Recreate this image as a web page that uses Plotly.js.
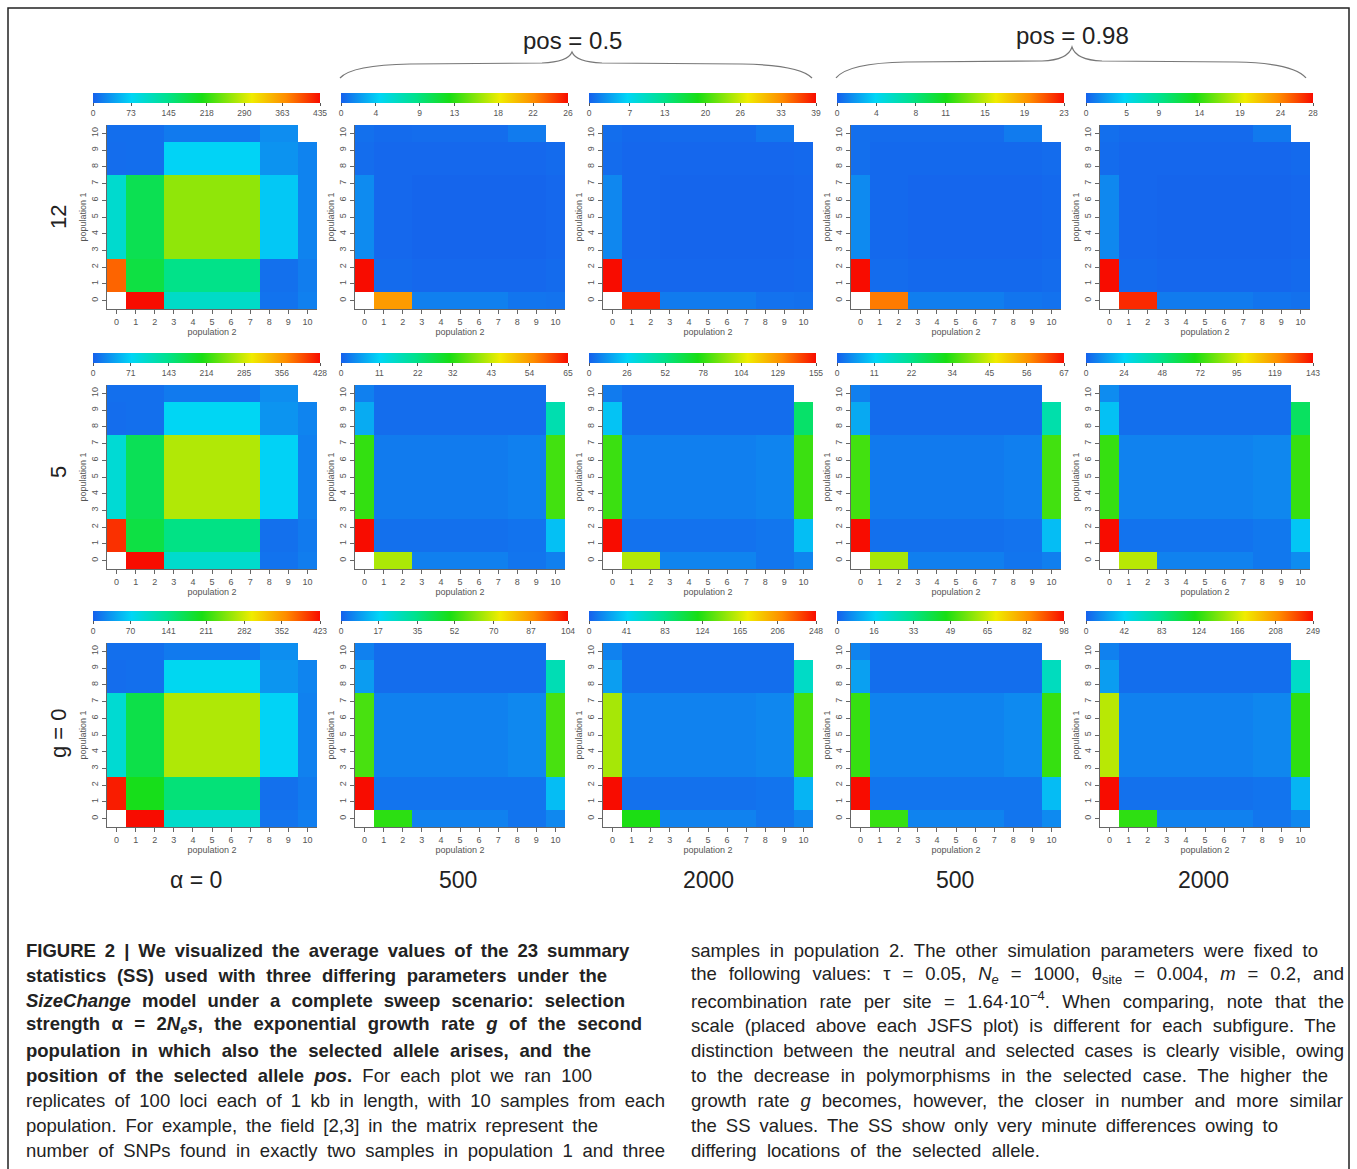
<!DOCTYPE html>
<html>
<head>
<meta charset="utf-8">
<script src="https://cdn.plot.ly/plotly-3.0.1.min.js"></script>
<style>
html,body{margin:0;padding:0;background:#fff;}
#chart{width:1357px;height:1169px;}
</style>
</head>
<body>
<div id="chart"></div>
<script>
// ---------------- DATA ----------------
// bins of sample counts (population 1 rows, population 2 columns): 0, 1-2, 3-7, 8-9, 10
const binEdges = [-0.5, 0.5, 2.5, 7.5, 9.5, 10.5];
const axisTicks = [0,1,2,3,4,5,6,7,8,9,10];
const rowLabels = ["12", "5", "g = 0"];
const colLabels = ["\u03b1 = 0", "500", "2000", "500", "2000"];
const posLabels = ["pos = 0.5", "pos = 0.98"];

// row g = 12
const z_g12_a0      = [[null,435,105,12,20],[390,183,145,10,18],[100,175,262,65,22],[8,9,72,32,22],[9,9,16,28,null]];
const z_g12_a500_p05  = [[null,21.5,1.2,0.8,0.7],[26,0.4,0.3,0.3,0.4],[1.6,0.3,0.2,0.2,0.3],[0.5,0.3,0.3,0.3,0.4],[0.6,0.4,0.5,1.0,null]];
const z_g12_a2000_p05 = [[null,38,1.5,1.0,0.9],[39,0.5,0.4,0.4,0.5],[2.2,0.4,0.3,0.3,0.4],[0.7,0.4,0.4,0.4,0.5],[0.8,0.5,0.6,1.3,null]];
const z_g12_a500_p098 = [[null,20,1.0,0.7,0.6],[23,0.4,0.3,0.3,0.4],[1.4,0.3,0.2,0.2,0.3],[0.5,0.3,0.3,0.3,0.4],[0.5,0.4,0.4,0.9,null]];
const z_g12_a2000_p098= [[null,27,1.1,0.8,0.7],[28,0.4,0.3,0.3,0.4],[1.6,0.3,0.2,0.2,0.3],[0.5,0.3,0.3,0.3,0.4],[0.6,0.4,0.4,1.0,null]];
// row g = 5
const z_g5_a0       = [[null,428,100,12,18],[410,180,145,10,16],[95,170,272,70,20],[8,9,74,32,22],[9,9,16,28,null]];
const z_g5_a500_p05   = [[null,41,3,2,3],[65,1.5,1.5,1.8,9],[33,2.5,2.5,3,34],[7,1.2,1.2,1.2,18],[3,1.2,1.2,1.2,null]];
const z_g5_a2000_p05  = [[null,99,8,5,8],[155,4,4,5,21],[80,7,7,8,80],[22,3,3,3,58],[6,3,3,3,null]];
const z_g5_a500_p098  = [[null,42,3,2,3],[67,1.5,1.5,1.8,9],[35,2.5,2.5,3,35],[7,1.2,1.2,1.2,19],[3,1.2,1.2,1.2,null]];
const z_g5_a2000_p098 = [[null,92,7,5,9],[143,4,4,5,21],[73,7,7,8,73],[20,3,3,3,55],[9,3,3,3,null]];
// row g = 0
const z_g0_a0       = [[null,423,100,12,18],[415,200,150,10,16],[95,175,268,70,20],[8,9,75,32,22],[9,9,16,28,null]];
const z_g0_a500_p05   = [[null,52,5,3,6],[104,3,3,3,14],[55,5,5,6,55],[9,2,2,2,28],[5,2,2,2,null]];
const z_g0_a2000_p05  = [[null,120,12,8,14],[248,6,6,7,30],[155,12,12,14,130],[22,5,5,5,60],[12,5,5,5,null]];
const z_g0_a500_p098  = [[null,50,5,3,6],[98,3,3,3,13],[50,5,5,6,50],[9,2,2,2,25],[5,2,2,2,null]];
const z_g0_a2000_p098 = [[null,125,12,8,14],[249,6,6,7,30],[160,12,12,14,125],[22,5,5,5,60],[12,5,5,5,null]];

// colour-scale tick labels
const cb_g12_a0       = [0,73,145,218,290,363,435];
const cb_g12_a500_p05   = [0,4,9,13,18,22,26];
const cb_g12_a2000_p05  = [0,7,13,20,26,33,39];
const cb_g12_a500_p098  = [0,4,8,11,15,19,23];
const cb_g12_a2000_p098 = [0,5,9,14,19,24,28];
const cb_g5_a0        = [0,71,143,214,285,356,428];
const cb_g5_a500_p05    = [0,11,22,32,43,54,65];
const cb_g5_a2000_p05   = [0,26,52,78,104,129,155];
const cb_g5_a500_p098   = [0,11,22,34,45,56,67];
const cb_g5_a2000_p098  = [0,24,48,72,95,119,143];
const cb_g0_a0        = [0,70,141,211,282,352,423];
const cb_g0_a500_p05    = [0,17,35,52,70,87,104];
const cb_g0_a2000_p05   = [0,41,83,124,165,206,248];
const cb_g0_a500_p098   = [0,16,33,49,65,82,98];
const cb_g0_a2000_p098  = [0,42,83,124,166,208,249];

const grid = [
  [[z_g12_a0,cb_g12_a0],[z_g12_a500_p05,cb_g12_a500_p05],[z_g12_a2000_p05,cb_g12_a2000_p05],[z_g12_a500_p098,cb_g12_a500_p098],[z_g12_a2000_p098,cb_g12_a2000_p098]],
  [[z_g5_a0,cb_g5_a0],[z_g5_a500_p05,cb_g5_a500_p05],[z_g5_a2000_p05,cb_g5_a2000_p05],[z_g5_a500_p098,cb_g5_a500_p098],[z_g5_a2000_p098,cb_g5_a2000_p098]],
  [[z_g0_a0,cb_g0_a0],[z_g0_a500_p05,cb_g0_a500_p05],[z_g0_a2000_p05,cb_g0_a2000_p05],[z_g0_a500_p098,cb_g0_a500_p098],[z_g0_a2000_p098,cb_g0_a2000_p098]]
];

const captionLeft = [
  "<b>FIGURE 2 | We visualized the average values of the 23 summary</b>",
  "<b>statistics (SS) used with three differing parameters under the</b>",
  "<b><i>SizeChange</i> model under a complete sweep scenario: selection</b>",
  "<b>strength \u03b1 = 2<i>N<sub>e</sub>s</i>, the exponential growth rate <i>g</i> of the second</b>",
  "<b>population in which also the selected allele arises, and the</b>",
  "<b>position of the selected allele <i>pos</i>.</b> For each plot we ran 100",
  "replicates of 100 loci each of 1 kb in length, with 10 samples from each",
  "population. For example, the field [2,3] in the matrix represent the",
  "number of SNPs found in exactly two samples in population 1 and three"
];
const captionRight = [
  "samples in population 2. The other simulation parameters were fixed to",
  "the following values: \u03c4 = 0.05, <i>N<sub>e</sub></i> = 1000, \u03b8<sub>site</sub> = 0.004, <i>m</i> = 0.2, and",
  "recombination rate per site = 1.64\u00b710<sup>\u22124</sup>. When comparing, note that the",
  "scale (placed above each JSFS plot) is different for each subfigure. The",
  "distinction between the neutral and selected cases is clearly visible, owing",
  "to the decrease in polymorphisms in the selected case. The higher the",
  "growth rate <i>g</i> becomes, however, the closer in number and more similar",
  "the SS values. The SS show only very minute differences owing to",
  "differing locations of the selected allele."
];

// ---------------- LAYOUT ----------------
const W = 1357, H = 1169;
const px = x => x / W;
const py = y => 1 - y / H;
const colLeft = [107, 355, 603, 851, 1100];
const rowTop = [125, 385, 643];
const PW = 210, PH = 184;

const colorscale = [
  [0.00, 'rgb(22,96,236)'],
  [0.17, 'rgb(0,214,246)'],
  [0.33, 'rgb(0,226,140)'],
  [0.48, 'rgb(24,222,20)'],
  [0.70, 'rgb(240,236,0)'],
  [0.85, 'rgb(255,140,0)'],
  [1.00, 'rgb(248,12,0)']
];

const tickFont = {family: 'Liberation Sans, Arial, sans-serif', size: 9, color: '#555'};
const data = [];
const layout = {
  width: W, height: H,
  margin: {l: 0, r: 0, t: 0, b: 0},
  paper_bgcolor: '#fff', plot_bgcolor: '#fff',
  showlegend: false,
  annotations: [], shapes: []
};

let n = 0;
for (let r = 0; r < 3; r++) {
  for (let c = 0; c < 5; c++) {
    n++;
    const [z, cb] = grid[r][c];
    const xa = n === 1 ? 'x' : 'x' + n;
    const ya = n === 1 ? 'y' : 'y' + n;
    const L = colLeft[c], T = rowTop[r];
    data.push({
      type: 'heatmap', z: z, x: binEdges, y: binEdges,
      xaxis: xa, yaxis: ya,
      zmin: 0, zmax: cb[cb.length - 1],
      colorscale: colorscale, hoverongaps: false,
      colorbar: {
        orientation: 'h', x: px(L - 14), xanchor: 'left',
        y: py(T - 32), yanchor: 'top',
        len: 227, lenmode: 'pixels', thickness: 10,
        xpad: 0, ypad: 0, outlinewidth: 0,
        tickvals: cb, ticktext: cb.map(String),
        ticks: 'outside', ticklen: 3, tickcolor: '#555',
        tickfont: {family: 'Liberation Sans, Arial, sans-serif', size: 8.5, color: '#555'}
      }
    });
    const common = {
      range: [-0.5, 10.5], tickvals: axisTicks, ticktext: axisTicks.map(String),
      ticks: 'outside', ticklen: 4, tickcolor: '#666', tickfont: tickFont,
      showline: true, linecolor: '#666', linewidth: 1,
      showgrid: false, zeroline: false, fixedrange: true
    };
    layout['xaxis' + (n === 1 ? '' : n)] = Object.assign({}, common, {
      domain: [px(L), px(L + PW)], anchor: ya,
      title: {text: 'population 2', standoff: 0, font: {family: 'Liberation Sans, Arial, sans-serif', size: 9, color: '#555'}}
    });
    layout['yaxis' + (n === 1 ? '' : n)] = Object.assign({}, common, {
      domain: [py(T + PH), py(T)], anchor: xa, tickangle: -90,
      title: {text: 'population 1', standoff: 2, font: {family: 'Liberation Sans, Arial, sans-serif', size: 9, color: '#555'}}
    });
  }
}

// row labels
const rowLabelY = [217, 472, 733];
rowLabels.forEach((t, i) => layout.annotations.push({
  text: t, xref: 'paper', yref: 'paper', x: px(58), y: py(rowLabelY[i]),
  xanchor: 'center', yanchor: 'middle', textangle: -90, showarrow: false,
  font: {family: 'Liberation Sans, Arial, sans-serif', size: 22, color: '#222'}
}));
// column labels
const colLabelX = [196, 458, 708, 955, 1203];
colLabels.forEach((t, i) => layout.annotations.push({
  text: t, xref: 'paper', yref: 'paper', x: px(colLabelX[i]), y: py(880),
  xanchor: 'center', yanchor: 'middle', showarrow: false,
  font: {family: 'Liberation Sans, Arial, sans-serif', size: 23, color: '#222'}
}));
// pos labels and braces
const posX = [572, 1072], posY = [40, 35];
posLabels.forEach((t, i) => layout.annotations.push({
  text: t, xref: 'paper', yref: 'paper', x: px(posX[i]), y: py(posY[i]),
  xanchor: 'center', yanchor: 'middle', showarrow: false,
  font: {family: 'Liberation Sans Narrow, Liberation Sans, Arial, sans-serif', size: 24, color: '#222'}
}));
function brace(x0, x1, xa, yEnd, yMid, yApex) {
  const P = (x, y) => px(x).toFixed(5) + ',' + py(y).toFixed(5);
  return 'M ' + P(x0, yEnd) +
    ' Q ' + P(x0 + 12, yMid + 1) + ' ' + P(x0 + 70, yMid) +
    ' L ' + P(xa - 30, yMid - 1) +
    ' Q ' + P(xa - 4, yMid - 2) + ' ' + P(xa, yApex) +
    ' Q ' + P(xa + 4, yMid - 2) + ' ' + P(xa + 30, yMid - 1) +
    ' L ' + P(x1 - 70, yMid) +
    ' Q ' + P(x1 - 12, yMid + 1) + ' ' + P(x1, yEnd);
}
layout.shapes.push({type: 'path', xref: 'paper', yref: 'paper', path: brace(340, 812, 572, 78, 64, 52), line: {color: '#777', width: 1.2}});
layout.shapes.push({type: 'path', xref: 'paper', yref: 'paper', path: brace(836, 1306, 1072, 78, 62, 47), line: {color: '#777', width: 1.2}});
// frame
layout.shapes.push({type: 'rect', xref: 'paper', yref: 'paper', x0: px(8), x1: px(1349), y0: -0.02, y1: py(8), line: {color: '#222', width: 1.5}});

// caption (one annotation per line; right edges of each printed line)
const capFont = {family: 'Liberation Sans, Arial, sans-serif', size: 18.5, color: '#222'};
const capLeftX = 24, capRightX = 689;
const capLeftEnds = [630, 607, 625, 642, 591, 592, 665, 598, 665];
const capRightEnds = [1318, 1344, 1344, 1336, 1344, 1328, 1343, 1278, 1040];
const capStart = layout.annotations.length;
captionLeft.forEach((t, i) => layout.annotations.push({
  text: t, xref: 'paper', yref: 'paper', x: px(capLeftX), y: py(950 + 25 * i),
  xanchor: 'left', yanchor: 'middle', showarrow: false, align: 'left', font: capFont
}));
captionRight.forEach((t, i) => layout.annotations.push({
  text: t, xref: 'paper', yref: 'paper', x: px(capRightX), y: py(950 + 25 * i),
  xanchor: 'left', yanchor: 'middle', showarrow: false, align: 'left', font: capFont
}));

Plotly.newPlot('chart', data, layout, {displayModeBar: false, staticPlot: true}).then(gd => {
  const ends = capLeftEnds.concat(capRightEnds);
  const host = gd.getBoundingClientRect();
  ends.forEach((target, k) => {
    const g = gd.querySelector('.annotation[data-index="' + (capStart + k) + '"]');
    if (!g) return;
    const el = g.querySelector('text.annotation-text');
    if (!el) return;
    const spaces = (el.textContent.match(/ /g) || []).length;
    if (!spaces) return;
    const right = el.getBoundingClientRect().right - host.left;
    let ws = (target - right) / spaces;
    ws = Math.max(-2, Math.min(ws, 8));
    el.style.wordSpacing = ws.toFixed(2) + 'px';
  });
});
</script>
</body>
</html>
